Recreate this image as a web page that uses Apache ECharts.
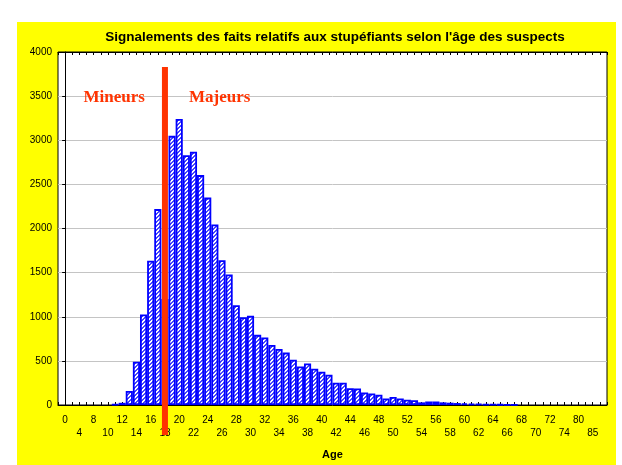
<!DOCTYPE html>
<html>
<head>
<meta charset="utf-8">
<script src="https://cdn.jsdelivr.net/npm/echarts@6/dist/echarts.min.js"></script>
<style>
  html, body { margin: 0; padding: 0; background: #fff; }
  #chart { position: absolute; left: 17px; top: 22px; width: 599px; height: 443px; }
</style>
</head>
<body>
<div id="chart"></div>
<script>
// ages shown on the x axis (one bar per entry, labels on every other one)
const ages = [
  "0", "2", "4", "6", "8", "9",
  "10", "11", "12", "13", "14", "15", "16", "17", "18", "19",
  "20", "21", "22", "23", "24", "25", "26", "27", "28", "29",
  "30", "31", "32", "33", "34", "35", "36", "37", "38", "39",
  "40", "41", "42", "43", "44", "45", "46", "47", "48", "49",
  "50", "51", "52", "53", "54", "55", "56", "57", "58", "59",
  "60", "61", "62", "63", "64", "65", "66", "67", "68", "69",
  "70", "71", "72", "73", "74",
  "77", "80", "82", "85", "90"
];

// number of suspects per age
const counts = [
  0, 0, 0, 0, 0, 0,
  0, 8, 25, 158, 490, 1025, 1634, 2220, 1200, 3050,
  3240, 2830, 2870, 2605, 2350, 2045, 1640, 1480, 1130, 995,
  1010, 795, 765, 680, 635, 594, 512, 436, 470, 412,
  378, 342, 252, 252, 190, 188, 141, 130, 116, 75,
  90, 75, 60, 53, 30, 41, 41, 30, 26, 22,
  19, 15, 12, 10, 8, 6, 5, 4, 0, 0,
  0, 0, 0, 0, 0,
  0, 0, 0, 0, 0
];

const yTicks = [0, 500, 1000, 1500, 2000, 2500, 3000, 3500, 4000];

const majorityAge = "18";
const separatorTop = 3830;
const groupLabels = ["Mineurs", "Majeurs"];
const groupLabelValue = 3480;

const red = "#ff3300";
const blue = "#0000ff";
const sans = "Liberation Sans, Arial, sans-serif";
const serif = "Liberation Serif, Times New Roman, serif";

// diagonal hatch used to fill the bars
function hatch() {
  const c = document.createElement("canvas");
  c.width = 4;
  c.height = 4;
  const ctx = c.getContext("2d");
  ctx.fillStyle = "#ffffff";
  ctx.fillRect(0, 0, 4, 4);
  ctx.fillStyle = "#4646ff";
  const cells = [[3, 0], [2, 1], [1, 2], [0, 3], [2, 0], [1, 1], [0, 2], [3, 3]];
  cells.forEach(([x, y]) => ctx.fillRect(x, y, 1, 1));
  return c;
}

function xLabel(v) {
  const lab = ages[v];
  if (lab === undefined || v % 2 !== 0) return "";
  return (v / 2) % 2 === 0 ? lab : "\n" + lab;
}

const chart = echarts.init(document.getElementById("chart"));

chart.setOption({
  backgroundColor: "#ffff00",
  animation: false,
  title: {
    text: "Signalements des faits relatifs aux stupéfiants selon l'âge des suspects",
    left: 318,
    textAlign: "center",
    top: 8,
    padding: 0,
    textStyle: { fontFamily: sans, fontSize: 13.5, fontWeight: "bold", color: "#000" },
  },
  grid: {
    left: 41,
    right: 9,
    top: 30,
    bottom: 58,
    show: true,
    backgroundColor: "#ffffff",
    borderColor: "#000",
    borderWidth: 1,
  },
  xAxis: [
    {
      type: "value",
      min: -1,
      max: ages.length,
      interval: 1,
      name: "Age",
      nameLocation: "middle",
      nameGap: 44,
      nameTextStyle: { fontFamily: sans, fontSize: 11, fontWeight: "bold", color: "#000" },
      axisLine: { lineStyle: { color: "#000", width: 1 } },
      axisTick: { inside: true, length: 3, lineStyle: { color: "#000" } },
      axisLabel: {
        formatter: xLabel,
        margin: 9,
        fontFamily: sans,
        fontSize: 10,
        lineHeight: 13,
        color: "#000",
        showMinLabel: true,
        showMaxLabel: true,
      },
      splitLine: { show: false },
    },
    {
      type: "value",
      position: "top",
      min: -1,
      max: ages.length,
      interval: 1,
      axisLine: { lineStyle: { color: "#000" } },
      axisTick: { inside: true, length: 3, lineStyle: { color: "#000" } },
      axisLabel: { show: false },
      splitLine: { show: false },
    },
  ],
  yAxis: {
    type: "value",
    min: yTicks[0],
    max: yTicks[yTicks.length - 1],
    interval: yTicks[1] - yTicks[0],
    axisLine: { show: true, lineStyle: { color: "#000" } },
    axisTick: { show: true, length: 3, lineStyle: { color: "#000" } },
    axisLabel: { fontFamily: sans, fontSize: 10, color: "#000", margin: 6, formatter: (v) => String(v) },
    splitLine: { lineStyle: { color: "#c4c4c4", width: 1 } },
  },
  series: [
    {
      type: "bar",
      barWidth: "100%",
      data: counts.map((v, i) => [i, v > 0 ? v : null]),
      itemStyle: {
        color: { image: hatch(), repeat: "repeat" },
        borderColor: blue,
        borderWidth: 1.8,
      },
    },
    {
      type: "custom",
      clip: false,
      silent: true,
      z: 10,
      data: [[ages.indexOf(majorityAge), separatorTop]],
      renderItem(params, api) {
        const top = api.coord([api.value(0), api.value(1)]);
        const base = api.coord([api.value(0), 0]);
        const ly = api.coord([api.value(0), groupLabelValue])[1];
        const font = "bold 17px " + serif;
        return {
          type: "group",
          children: [
            {
              type: "rect",
              shape: { x: top[0] - 3, y: top[1], width: 6, height: base[1] - top[1] + 30 },
              style: { fill: red },
            },
            {
              type: "text",
              x: top[0] - 20,
              y: ly,
              style: { text: groupLabels[0], align: "right", verticalAlign: "middle", fill: red, font },
            },
            {
              type: "text",
              x: top[0] + 24,
              y: ly,
              style: { text: groupLabels[1], align: "left", verticalAlign: "middle", fill: red, font },
            },
          ],
        };
      },
    },
  ],
});
</script>
</body>
</html>
